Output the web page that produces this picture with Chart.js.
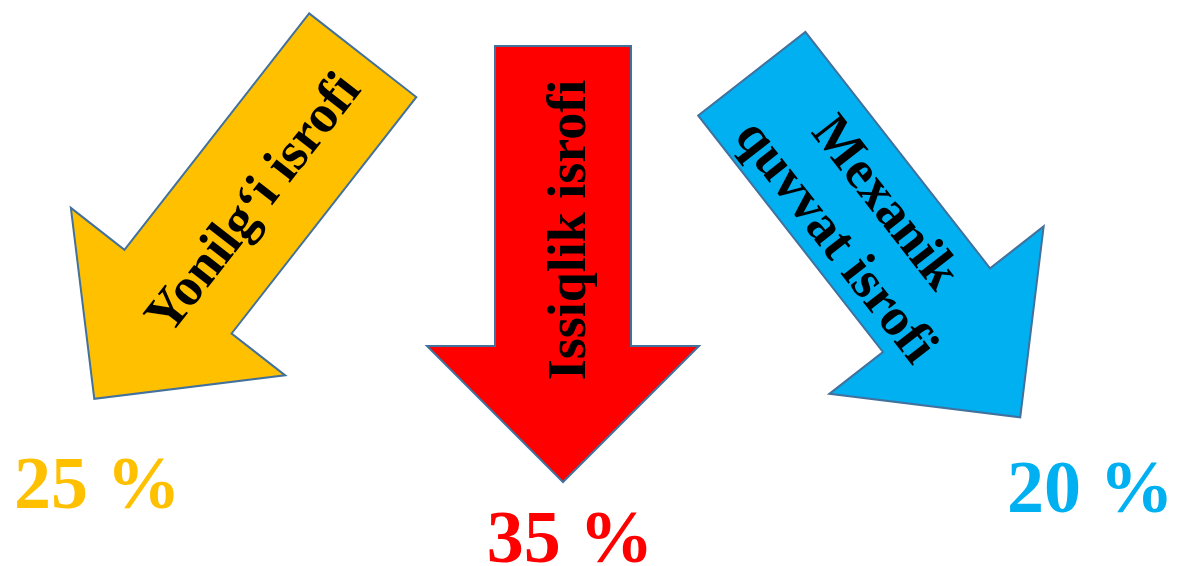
<!DOCTYPE html>
<html>
<head>
<meta charset="utf-8">
<script src="https://cdn.jsdelivr.net/npm/chart.js"></script>
<style>
  html, body { margin: 0; padding: 0; background: #fff; }
  .chart-box { width: 1178px; height: 566px; }
</style>
</head>
<body>
<div class="chart-box"><canvas id="myChart"></canvas></div>
<script>
// data
const categories = [['Yonilg‘i isrofi'], ['Issiqlik isrofi'], ['Mexanik', 'quvvat isrofi']];
const lossValues = [25, 35, 20];
const percentLabels = lossValues.map(v => v + ' %');

// styles
const arrowColors = ['#FFC000', '#FF0000', '#00B0F0'];
const arrowRotation = [38, 0, -38];          // degrees, clockwise
const arrowShift = [[-1.5, -56], [4, -19], [-2, -37.5]];
const textRotation = [-90, -90, 90];         // inside the arrow
const textBase = [21, 22, -10];              // first baseline offset
const labelOffset = [[3, 109], [7, 80], [70, 95]];

// arrow shape (pointing down, centred on 0,0)
const HALF_LEN = 218, SHAFT = 68, HEAD = 136, HEAD_BASE = 82;

const arrowPlugin = {
  id: 'arrows',
  afterDatasetsDraw(chart) {
    const ctx = chart.ctx;
    const points = chart.getDatasetMeta(0).data;
    points.forEach(function(pt, i) {
      const cx = pt.x + arrowShift[i][0];
      const cy = pt.y + arrowShift[i][1];
      const rad = arrowRotation[i] * Math.PI / 180;

      ctx.save();
      ctx.translate(cx, cy);
      ctx.rotate(rad);
      ctx.beginPath();
      ctx.moveTo(-SHAFT, -HALF_LEN);
      ctx.lineTo(SHAFT, -HALF_LEN);
      ctx.lineTo(SHAFT, HEAD_BASE);
      ctx.lineTo(HEAD, HEAD_BASE);
      ctx.lineTo(0, HALF_LEN);
      ctx.lineTo(-HEAD, HEAD_BASE);
      ctx.lineTo(-SHAFT, HEAD_BASE);
      ctx.closePath();
      ctx.fillStyle = arrowColors[i];
      ctx.fill();
      ctx.lineWidth = 2;
      ctx.lineJoin = 'miter';
      ctx.strokeStyle = '#41719C';
      ctx.stroke();

      // category text along the shaft
      ctx.translate(0, -34);
      ctx.rotate(textRotation[i] * Math.PI / 180);
      ctx.font = 'bold 54px "Liberation Serif", "Times New Roman", serif';
      ctx.fillStyle = '#000';
      ctx.textAlign = 'center';
      ctx.textBaseline = 'alphabetic';
      categories[i].forEach(function(line, k) {
        ctx.fillText(line, 0, textBase[i] + k * 63);
      });
      ctx.restore();

      // percentage near the tip
      const tipX = cx - Math.sin(rad) * HALF_LEN;
      const tipY = cy + Math.cos(rad) * HALF_LEN;
      ctx.save();
      ctx.font = 'bold 74px "Liberation Serif", "Times New Roman", serif';
      ctx.fillStyle = arrowColors[i];
      ctx.textAlign = 'center';
      ctx.textBaseline = 'alphabetic';
      ctx.fillText(percentLabels[i], tipX + labelOffset[i][0], tipY + labelOffset[i][1]);
      ctx.restore();
    });
  }
};

const ctx = document.getElementById('myChart').getContext('2d');

const chart = new Chart(ctx, {
  type: 'scatter',
  data: {
    datasets: [{
      label: 'Isrof',
      data: lossValues.map((v, i) => ({ x: i, y: 0 })),
      pointRadius: 0,
      clip: false
    }]
  },
  options: {
    responsive: true,
    maintainAspectRatio: false,
    animation: false,
    layout: { padding: 0 },
    scales: {
      x: { type: 'linear', display: false, min: -0.6991, max: 2.8814 },
      y: { type: 'linear', display: false, min: -1, max: 1 }
    },
    plugins: {
      legend: { display: false },
      tooltip: { enabled: false }
    }
  },
  plugins: [arrowPlugin]
});
</script>
</body>
</html>
